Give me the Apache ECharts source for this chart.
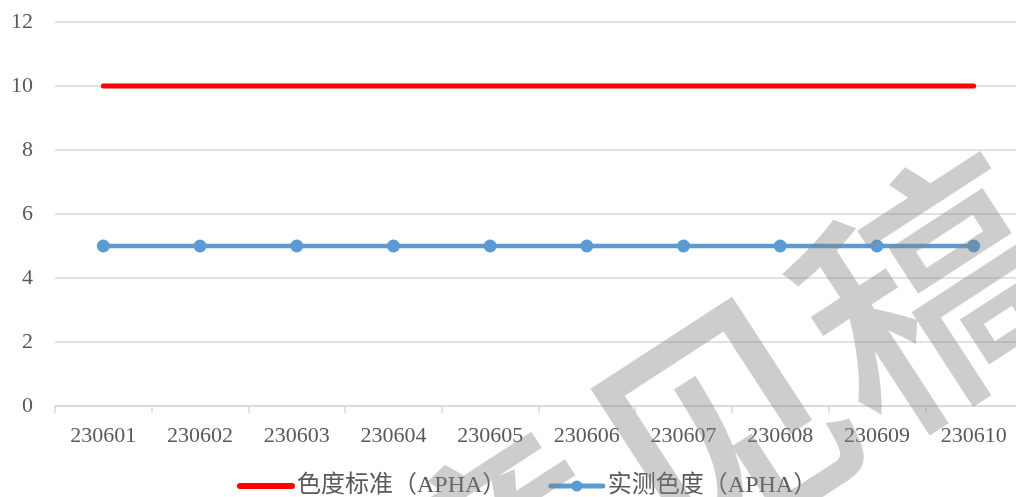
<!DOCTYPE html>
<html>
<head>
<meta charset="utf-8">
<script src="https://cdn.jsdelivr.net/npm/echarts@6/dist/echarts.min.js"></script>
<style>
  html, body { margin: 0; padding: 0; background: #fff; overflow: hidden; }
  #chart { width: 1026px; height: 497px; }
</style>
</head>
<body>
<div id="chart"></div>
<script>
// 日期（类目）
const dates = ['230601', '230602', '230603', '230604', '230605', '230606', '230607', '230608', '230609', '230610']
// 色度标准
const standardValues = [10, 10, 10, 10, 10, 10, 10, 10, 10, 10]
// 实测色度
const measuredValues = [5, 5, 5, 5, 5, 5, 5, 5, 5, 5]
// 纵轴刻度
const yMin = 0
const yMax = 12
const yStep = 2

const seriesNames = ['色度标准（APHA）', '实测色度（APHA）']
const watermark = '征求意见稿'

const fontFamily = '"Liberation Serif", "Noto Sans CJK SC", serif'

// 画布比窗口宽一点，右侧超出部分被裁掉
const chart = echarts.init(document.getElementById('chart'), null, { renderer: 'canvas' })

chart.setOption({
  animation: false,
  backgroundColor: '#fff',
  grid: { left: 55, right: 4, top: 22, bottom: 91, containLabel: false },
  xAxis: {
    type: 'category',
    data: dates,
    boundaryGap: true,
    axisLine: { lineStyle: { color: '#d9d9d9', width: 1.5 } },
    axisTick: { show: true, length: 7, lineStyle: { color: '#d9d9d9', width: 1.5 } },
    axisLabel: { color: '#595959', fontSize: 22, fontFamily, margin: 19 }
  },
  yAxis: {
    type: 'value',
    min: yMin,
    max: yMax,
    interval: yStep,
    axisLine: { show: false },
    axisTick: { show: false },
    axisLabel: { color: '#595959', fontSize: 22, fontFamily, margin: 22 },
    splitLine: { lineStyle: { color: '#d9d9d9', width: 1.5 } }
  },
  legend: {
    bottom: -6,
    left: 232,
    itemWidth: 52,
    itemHeight: 14,
    itemGap: 42,
    textStyle: { color: '#595959', fontSize: 24, fontFamily },
    data: [
      { name: seriesNames[0], itemStyle: { opacity: 0 }, lineStyle: { width: 6, cap: 'round' } },
      { name: seriesNames[1], lineStyle: { width: 5, cap: 'round' } }
    ]
  },
  series: [
    {
      name: seriesNames[0],
      type: 'line',
      data: standardValues,
      symbol: 'none',
      lineStyle: { color: '#ff0000', width: 5, cap: 'round' },
      itemStyle: { color: '#ff0000' }
    },
    {
      name: seriesNames[1],
      type: 'line',
      data: measuredValues,
      symbol: 'circle',
      symbolSize: 13,
      lineStyle: { color: '#5b9bd5', width: 4.5, cap: 'round' },
      itemStyle: { color: '#5b9bd5' }
    }
  ],
  // 水印
  graphic: [
    {
      type: 'text',
      x: 505,
      y: 570,
      rotation: Math.PI * 33 / 180,
      z: 100,
      silent: true,
      style: {
        text: watermark,
        font: '500 255px "Noto Sans CJK SC"',
        fill: 'rgba(130,130,130,0.4)',
        align: 'center',
        verticalAlign: 'middle'
      }
    }
  ]
})
</script>
</body>
</html>
